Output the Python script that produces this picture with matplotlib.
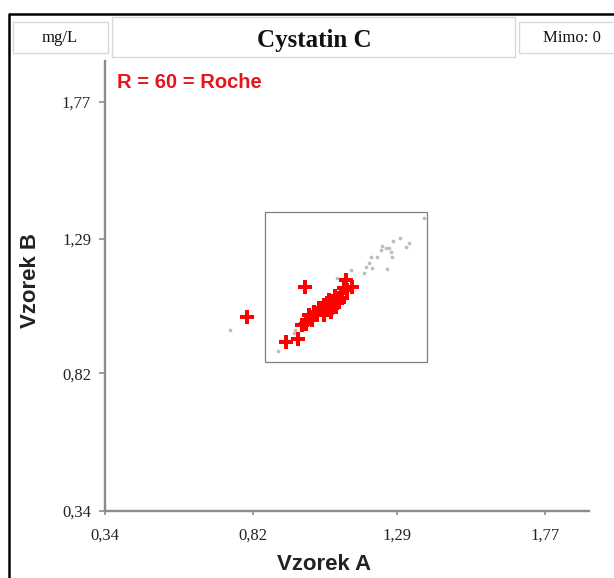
import matplotlib
matplotlib.use('Agg')
import matplotlib.pyplot as plt
from matplotlib.patches import Rectangle
from matplotlib.lines import Line2D

# Cystatin C: Vzorek A vs Vzorek B (mg/L)
ticks = [0.34, 0.82, 1.29, 1.77]
tick_labels = ['0,34', '0,82', '1,29', '1,77']
axis_min, axis_max = 0.34, 1.913

# participant results (red crosses)
red_a = [0.800, 0.991, 0.929, 0.968, 0.994, 1.013, 1.020, 1.036, 1.059, 1.075,
         1.068, 1.094, 1.101, 1.107, 1.117, 1.123, 1.143, 0.981, 1.004, 1.030,
         1.046, 1.062, 1.085, 1.088, 1.111, 1.127, 1.052, 1.078]
red_b = [1.018, 1.123, 0.930, 0.941, 0.993, 1.007, 1.035, 1.049, 1.056, 1.035,
         1.077, 1.084, 1.070, 1.102, 1.119, 1.147, 1.123, 0.990, 1.025, 1.032,
         1.042, 1.067, 1.060, 1.091, 1.084, 1.112, 1.025, 1.049]

# other results (grey dots)
grey_a = [1.376, 1.298, 1.276, 1.327, 1.318, 1.240, 1.253, 1.263, 1.237, 1.269,
          1.204, 1.224, 1.272, 1.198, 1.188, 1.208, 1.256, 1.182, 1.140, 1.094,
          0.958, 0.745, 0.903, 0.955]
grey_b = [1.363, 1.294, 1.283, 1.276, 1.263, 1.266, 1.259, 1.259, 1.252, 1.245,
          1.228, 1.228, 1.228, 1.207, 1.193, 1.189, 1.186, 1.172, 1.182, 1.154,
          0.972, 0.972, 0.899, 0.962]

# acceptance box
box_lo, box_hi = 0.861, 1.386

W, H = 614, 578
fig = plt.figure(figsize=(W / 100, H / 100), dpi=100)

def fx(px):
    return px / W

def fy(py):
    return 1 - py / H

ax = fig.add_axes([fx(105), fy(510.7), fx(589) - fx(105), fy(61) - fy(510.7)])
ax.set_xlim(axis_min, axis_max)
ax.set_ylim(axis_min, axis_max)

ax.scatter(grey_a, grey_b, s=7, color='#bdbdbd', linewidths=0, zorder=2)
ax.scatter(red_a, red_b, s=95, marker='P', color='#ff0000', linewidths=0, zorder=3)
ax.add_patch(Rectangle((box_lo, box_lo), box_hi - box_lo, box_hi - box_lo,
                       fill=False, edgecolor='#7f7f7f', linewidth=0.9, zorder=1))

for s in ['top', 'right']:
    ax.spines[s].set_visible(False)
for s in ['left', 'bottom']:
    ax.spines[s].set_color('#8c8c8c')
    ax.spines[s].set_linewidth(1.7)

ax.set_xticks(ticks)
ax.set_xticklabels(tick_labels)
ax.set_yticks(ticks)
ax.set_yticklabels(tick_labels)
ax.tick_params(axis='x', direction='out', length=3, width=1.2, color='#8c8c8c',
               pad=9, labelsize=12, labelcolor='#222222')
ax.tick_params(axis='y', direction='out', length=4, width=1.2, color='#8c8c8c',
               pad=6, labelsize=12, labelcolor='#222222')
for lab in ax.get_xticklabels() + ax.get_yticklabels():
    lab.set_fontfamily('Liberation Serif')

ax.text(fx(117), fy(83), 'R = 60 = Roche', transform=fig.transFigure,
        color='#e8141c', fontsize=14.5, fontweight='bold',
        family='Liberation Sans', ha='left', va='center')

fig.text(fx(324), fy(565), 'Vzorek A', fontsize=16, fontweight='bold',
         family='Liberation Sans', ha='center', va='center', color='#222222')
fig.text(fx(30), fy(281), 'Vzorek B', fontsize=16, fontweight='bold',
         family='Liberation Sans', ha='center', va='center', rotation=90,
         color='#222222')

# header boxes
headers = [(12.7, 21.7, 108, 52.7), (112, 17, 515, 57), (519, 21.7, 640, 52.7)]
for x0, y0, x1, y1 in headers:
    fig.add_artist(Rectangle((fx(x0), fy(y1)), fx(x1) - fx(x0), fy(y0) - fy(y1),
                             transform=fig.transFigure, fill=False,
                             edgecolor='#d8d8d8', linewidth=1))
fig.text(fx(60), fy(38), 'mg/L', fontsize=12, family='Liberation Serif',
         ha='center', va='center', color='#111111')
fig.text(fx(314), fy(40), 'Cystatin C', fontsize=18, fontweight='bold',
         family='Liberation Serif', ha='center', va='center', color='#111111')
fig.text(fx(572), fy(38), 'Mimo: 0', fontsize=12, family='Liberation Serif',
         ha='center', va='center', color='#111111')

# outer frame
fig.add_artist(Line2D([fx(9), fx(9), fx(614)], [fy(578), fy(14), fy(14)],
                      transform=fig.transFigure, color='black', linewidth=1.8))

fig.savefig('out.png', dpi=100)
